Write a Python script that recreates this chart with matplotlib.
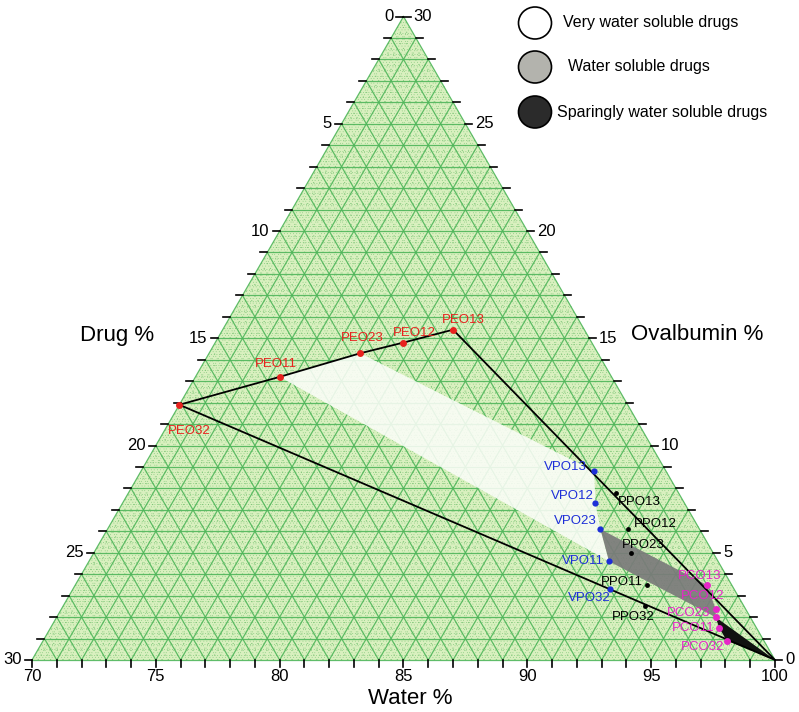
import numpy as np
import matplotlib
matplotlib.use("Agg")
import matplotlib.pyplot as plt
from matplotlib.patches import Polygon, Ellipse

plt.rcParams['font.family'] = ['Liberation Sans', 'DejaVu Sans']

# compositions: % water and % ovalbumin (drug % = the rest)
peo_names = ["PEO11", "PEO12", "PEO13", "PEO23", "PEO32"]
peo_water = [73.4, 77.6, 79.3, 76.1, 70.0]
peo_ova = [13.2, 14.8, 15.4, 14.3, 11.9]

vpo_names = ["VPO11", "VPO12", "VPO13", "VPO23", "VPO32"]
vpo_water = [91.0, 89.1, 88.3, 89.9, 91.7]
vpo_ova = [4.6, 7.3, 8.8, 6.1, 3.3]

ppo_names = ["PPO11", "PPO12", "PPO13", "PPO23", "PPO32"]
ppo_water = [93.1, 91.0, 89.7, 91.7, 93.5]
ppo_ova = [3.5, 6.1, 7.8, 5.0, 2.5]

pco_names = ["PCO11", "PCO12", "PCO13", "PCO23", "PCO32"]
pco_water = [97.0, 96.4, 95.5, 96.6, 97.6]
pco_ova = [1.5, 2.4, 3.5, 2.0, 0.9]

# outline and solubility regions, as point names ("W100" = pure water corner)
outline = ["PEO32", "PEO11", "PEO23", "PEO12", "PEO13", "W100", "PEO32"]
very_soluble = ["PEO11", "PEO23", "VPO13", "VPO12", "VPO23", "VPO11"]
soluble = ["VPO23", "PCO13", "PCO12", "PCO23", "VPO11"]
sparingly = ["PCO23", "W100", "PCO32", "PCO11"]

legend_labels = ["Very water soluble drugs", "Water soluble drugs",
                 "Sparingly water soluble drugs"]

W0 = 70.0
SPAN = 30.0


def tern(water, ova):
    a = (np.asarray(water, dtype=float) - W0) / SPAN
    c = np.asarray(ova, dtype=float) / SPAN
    return a + c / 2, c * np.sqrt(3) / 2


pts = {}
for names, ws, os_ in [(peo_names, peo_water, peo_ova), (vpo_names, vpo_water, vpo_ova),
                       (ppo_names, ppo_water, ppo_ova), (pco_names, pco_water, pco_ova)]:
    for n, w, o in zip(names, ws, os_):
        pts[n] = (w, o)
pts["W100"] = (100.0, 0.0)

# figure: 743 px per triangle side, bottom-left corner at pixel (32, 660)
S = 743.0
X0, Y0 = 32.0, 660.0
P = 1 / S
fig = plt.figure(figsize=(7.99, 7.12), dpi=100)
ax = fig.add_axes([0, 0, 1, 1])
ax.set_xlim(-X0 / S, (799 - X0) / S)
ax.set_ylim((Y0 - 712) / S, Y0 / S)
ax.axis('off')


def pix(x, y):
    return (x - X0) / S, (Y0 - y) / S


# background triangle
tx, ty = tern([70, 100, 70], [0, 0, 30])
ax.add_patch(Polygon(np.column_stack([tx, ty]), closed=True, facecolor='#d9f0bf',
                     edgecolor='none', zorder=0))


def seg(w1, o1, w2, o2, **kw):
    x, y = tern([w1, w2], [o1, o2])
    ax.plot(x, y, **kw)


# fine dotted grid
for k in np.arange(0.25, 30, 0.25):
    if abs(k - round(k)) < 1e-6:
        continue
    kw = dict(color='#74c270', lw=0.55, ls=(0, (1, 2.5)), zorder=1)
    seg(70, k, 100 - k, k, **kw)
    seg(70 + k, 0, 70 + k, 30 - k, **kw)
    seg(100 - k, 0, 70, 30 - k, **kw)

# major grid every 1 %
for k in range(31):
    kw = dict(color='#4fb65a', lw=0.9, alpha=0.9, zorder=2)
    seg(70, k, 100 - k, k, **kw)
    seg(70 + k, 0, 70 + k, 30 - k, **kw)
    seg(100 - k, 0, 70, 30 - k, **kw)

# regions
def region(names, **kw):
    x, y = tern([pts[n][0] for n in names], [pts[n][1] for n in names])
    ax.add_patch(Polygon(np.column_stack([x, y]), closed=True, **kw))


region(very_soluble, facecolor='#fbfdf8', edgecolor='none', alpha=0.88, zorder=3)
region(soluble, facecolor='#7a7a7a', edgecolor='none', alpha=0.92, zorder=3)
region(sparingly, facecolor='#111111', edgecolor='none', zorder=4)

# outline
ox, oy = tern([pts[n][0] for n in outline], [pts[n][1] for n in outline])
ax.plot(ox, oy, color='black', lw=1.3, zorder=5)

# ticks and tick labels
for v in range(31):
    x, y = tern(70, 30 - v)
    ax.plot([x - 7 * P, x], [y, y], color='black', lw=1.2, zorder=5)
    if v % 5 == 0:
        ax.text(x - 10 * P, y, str(v), ha='right', va='center', fontsize=12)
    x, y = tern(100 - v, v)
    ax.plot([x, x + 7 * P], [y, y], color='black', lw=1.2, zorder=5)
    if v % 5 == 0:
        ax.text(x + 10 * P, y, str(v), ha='left', va='center', fontsize=12)
    x, y = tern(70 + v, 0)
    ax.plot([x, x], [y, y - 7 * P], color='black', lw=1.2, zorder=5)
    if v % 5 == 0:
        ax.text(x, y - 9 * P, str(70 + v), ha='center', va='top', fontsize=12)

# axis titles
ax.text(*pix(117, 335), "Drug %", ha='center', va='center', fontsize=16)
ax.text(*pix(697, 335), "Ovalbumin %", ha='center', va='center', fontsize=16)
ax.text(*pix(410, 698), "Water %", ha='center', va='center', fontsize=16)

# points and labels: (dx, dy) in pixels, ha
label_pos = {
    "PEO32": (10, -26, 'center'), "PEO11": (-4, 13, 'center'), "PEO23": (2, 15, 'center'),
    "PEO12": (11, 10, 'center'), "PEO13": (10, 10, 'center'),
    "VPO13": (-7, 4, 'right'), "VPO12": (-2, 7, 'right'), "VPO23": (-4, 8, 'right'),
    "VPO11": (-5, 0, 'right'), "VPO32": (-21, -9, 'center'),
    "PPO13": (1, -9, 'left'), "PPO12": (6, 5, 'left'), "PPO23": (12, 8, 'center'),
    "PPO11": (-5, 3, 'right'), "PPO32": (-12, -11, 'center'),
    "PCO13": (-7, 9, 'center'), "PCO12": (-13, 13, 'center'), "PCO23": (-5, 4, 'right'),
    "PCO11": (-5, 0, 'right'), "PCO32": (-24, -6, 'center'),
}

series = [(peo_names, peo_water, peo_ova, '#e8221e', 5),
          (vpo_names, vpo_water, vpo_ova, '#1d2fd8', 4.5),
          (ppo_names, ppo_water, ppo_ova, 'black', 3.5),
          (pco_names, pco_water, pco_ova, '#e626c8', 5)]
for names, ws, os_, col, ms in series:
    x, y = tern(ws, os_)
    ax.plot(x, y, 'o', color=col, ms=ms, mec='none', zorder=6)
    for n, xi, yi in zip(names, x, y):
        dx, dy, ha = label_pos[n]
        ax.annotate(n, (xi, yi), xytext=(dx, dy), textcoords='offset pixels',
                    ha=ha, va='center', fontsize=9.5, color=col, zorder=7)

# legend
leg_fc = ['white', '#b3b3ad', '#2b2b2b']
leg_y = [23, 67, 112]
leg_tx = [563, 568, 557]
for fc, yy, xx, lab in zip(leg_fc, leg_y, leg_tx, legend_labels):
    cx, cy = pix(535, yy)
    ax.add_patch(Ellipse((cx, cy), 33 * P, 32 * P, facecolor=fc, edgecolor='black', lw=1.2))
    ax.text(*pix(xx, yy), lab, ha='left', va='center', fontsize=11.5)

fig.savefig("out.png", dpi=100)
